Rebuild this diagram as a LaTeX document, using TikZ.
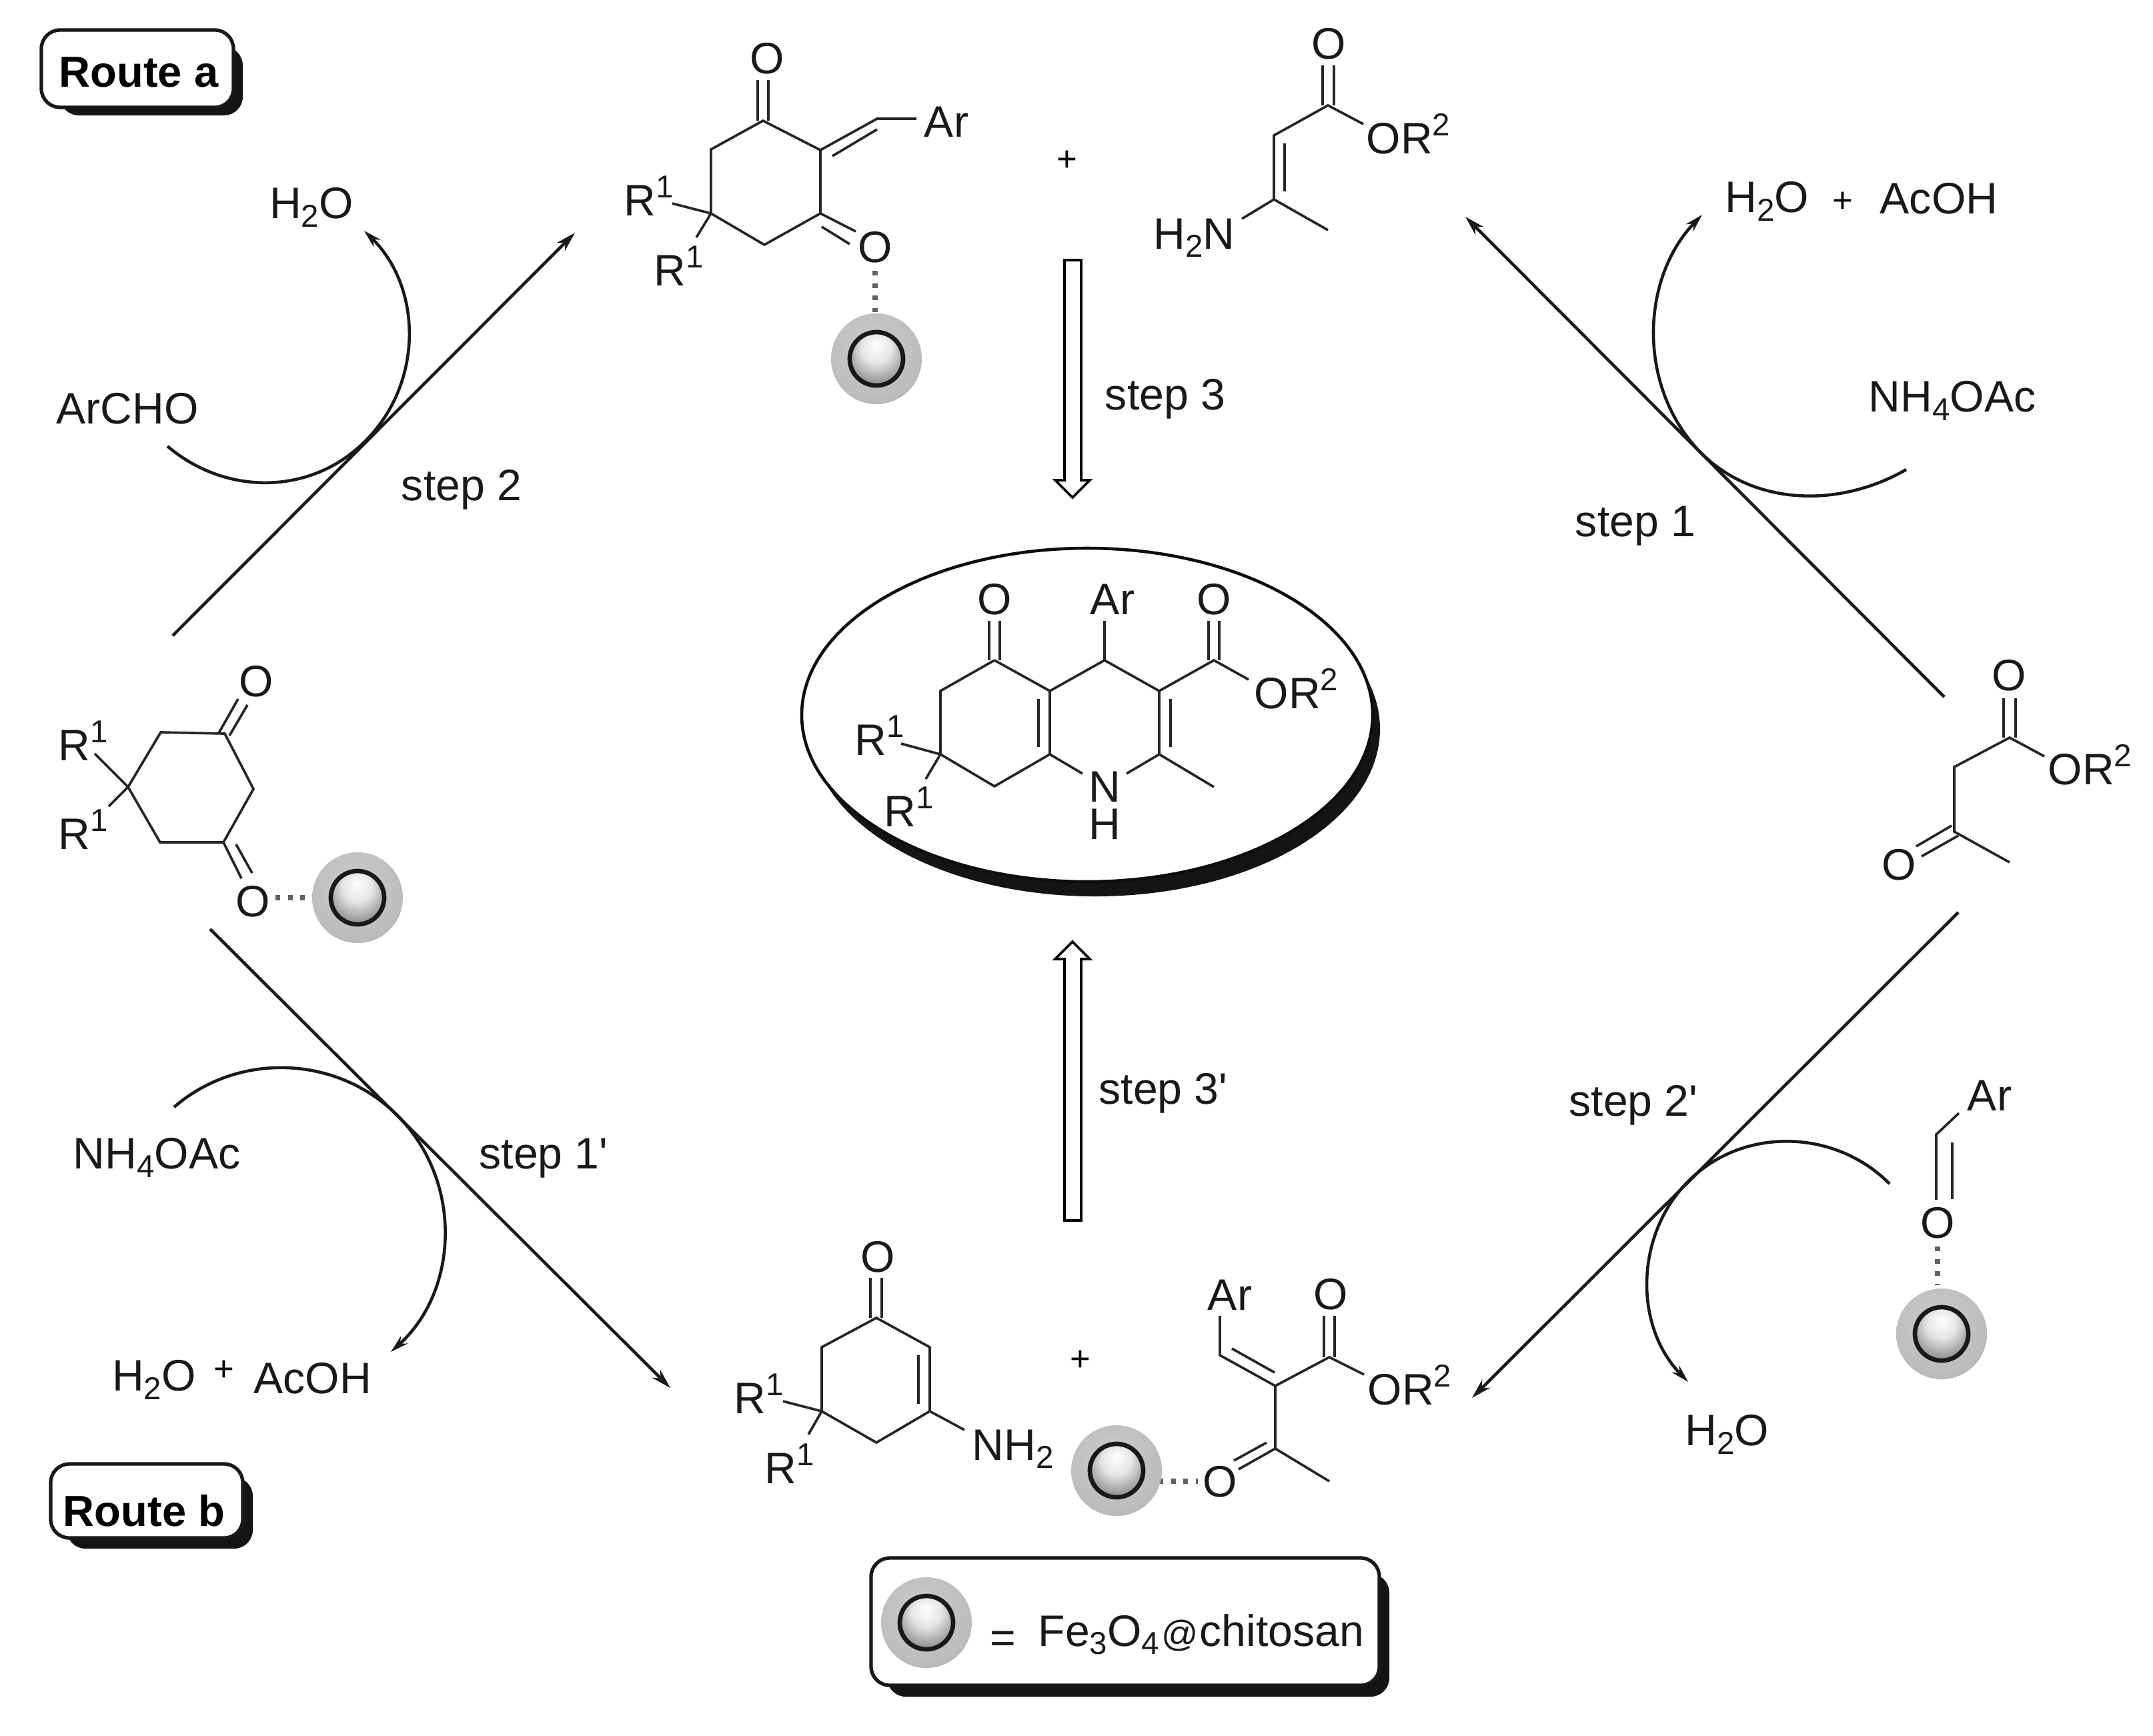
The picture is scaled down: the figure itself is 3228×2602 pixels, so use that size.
\documentclass[tikz,border=0pt]{standalone}
\usepackage{fontspec}
\setmainfont{Liberation Sans}
\usetikzlibrary{arrows.meta}
\pgfdeclareradialshading{pcore}{\pgfpoint{0bp}{14bp}}{color(0bp)=(white);color(14bp)=(black!10);color(30bp)=(black!45);color(45bp)=(black!80);color(50bp)=(black!90)}
\pgfdeclareradialshading{pshell}{\pgfpoint{-3bp}{8bp}}{color(0bp)=(black!20);color(26bp)=(black!26);color(40bp)=(black!34);color(52bp)=(black!40);color(60bp)=(black!38)}
\newcommand{\up}[1]{\raisebox{7.6pt}{\fontsize{13.5}{14}\selectfont #1}}
\newcommand{\dn}[1]{\raisebox{-3.5pt}{\fontsize{13.5}{14}\selectfont #1}}
\newcommand{\prm}{\textquotesingle}
\tikzset{
  lab/.style={inner sep=0pt,font=\fontsize{18.8}{20}\selectfont,text=black!90},
  bl/.style={lab,anchor=base west},
  be/.style={lab,anchor=base east},
  plus/.style={inner sep=0pt,font=\fontsize{15}{16}\selectfont},
  bond/.style={line width=1.05pt,black!85,line join=miter,line cap=butt},
  rxn/.style={line width=1.3pt,black!90,-{Stealth[length=0.3cm,width=0.17cm]}},
  curve/.style={line width=1.3pt,black!90},
  hbond/.style={line width=2.2pt,black!62,dash pattern=on 2pt off 3.3pt},
  hollow/.style={line width=1.05pt,draw=black,fill=white,line join=miter},
  pshellst/.style={circle,inner sep=0pt,minimum size=1.36cm,shading=pshell},
  pcorest/.style={circle,inner sep=0pt,minimum size=0.8cm,shading=pcore,draw=black!90,line width=1.9pt},
  boxw/.style={rounded corners=0.28cm,fill=white,draw=black!90,line width=1.5pt},
  boxs/.style={rounded corners=0.28cm,fill=black!92},
  route/.style={inner sep=0pt,font=\fontsize{18.5}{20}\selectfont\bfseries}
}
\begin{document}
\begin{tikzpicture}[x=0.01cm,y=-0.01cm]
\useasboundingbox (0,0) rectangle (3228,2602);
\fill[white] (0,0) rectangle (3228,2602);

% ---- reaction arrows
\coordinate (s2a) at (259,953); \coordinate (s2b) at (862,349);
\coordinate (s1a) at (2915,1045); \coordinate (s1b) at (2197,325);
\coordinate (s1pa) at (315,1393); \coordinate (s1pb) at (1005,2081);
\coordinate (s2pa) at (2936,1368); \coordinate (s2pb) at (2207,2096);
\draw[rxn] (s2a) -- (s2b);
\draw[rxn] (s1a) -- (s1b);
\draw[rxn] (s1pa) -- (s1pb);
\draw[rxn] (s2pa) -- (s2pb);

% ---- curved arrows
\coordinate (ca1) at (251,669); \coordinate (ca2) at (549,660); \coordinate (ca3) at (546,346);
\draw[curve,-{Stealth[length=0.27cm,width=0.15cm]}] (ca1) .. controls +(88,75) and +(-81,83) .. (ca2) .. controls +(86,-87) and +(87,85) .. (ca3);
\coordinate (cb1) at (2858,704); \coordinate (cb2) at (2540,668); \coordinate (cb3) at (2552,322);
\draw[curve,-{Stealth[length=0.27cm,width=0.15cm]}] (cb1) .. controls +(-104,60) and +(79,91) .. (cb2) .. controls +(-85,-98) and +(-90,93) .. (cb3);
\coordinate (cc1) at (261,1660); \coordinate (cc2) at (610,1688); \coordinate (cc3) at (586,2027);
\draw[curve,-{Stealth[length=0.27cm,width=0.15cm]}] (cc1) .. controls +(103,-89) and +(-87,-104) .. (cc2) .. controls +(84,100) and +(97,-87) .. (cc3);
\coordinate (cd1) at (2833,1775); \coordinate (cd2) at (2541,1762); \coordinate (cd3) at (2531,2072);
\draw[curve,-{Stealth[length=0.27cm,width=0.15cm]}] (cd1) .. controls +(-78,-79) and +(83,-73) .. (cd2) .. controls +(-90,79) and +(-84,-86) .. (cd3);

% ---- hollow arrows
\draw[hollow] (1596,390) -- (1621,390) -- (1621,720) -- (1634,720) -- (1608,746) -- (1582,720) -- (1596,720) -- cycle;
\draw[hollow] (1596,1830) -- (1621,1830) -- (1621,1438) -- (1634,1438) -- (1608,1412) -- (1582,1438) -- (1596,1438) -- cycle;

% ---- central ellipse
\fill[black!92] (1642,1093) ellipse [x radius=427,y radius=251];
\draw[fill=white,line width=1.3pt,draw=black!95] (1630,1072) ellipse [x radius=428,y radius=250];

% ---- route boxes
\fill[boxs] (90,70) rectangle (364,173);
\draw[boxw] (62,45) rectangle (350,161);
\node[route] (routea) at (208,108) {Route a};
\fill[boxs] (100,2215) rectangle (379,2322);
\draw[boxw] (76,2195) rectangle (364,2306);
\node[route] (routeb) at (216,2265) {Route b};

% ---- legend box
\fill[boxs] (1330,2360) rectangle (2083,2544);
\draw[boxw] (1306,2336) rectangle (2068,2527);
\node[pshellst] (pleg) at (1389,2433) {};
\node[pcorest] (plegc) at (1389,2433) {};
\node[lab] (legeq) at (1504,2462) {=};
\node[bl] (legt) at (1556,2468) {Fe\dn{3}O\dn{4}{\fontsize{15.5}{16}\selectfont\kern 1pt@\kern 0.5pt}chitosan};

% ---- molecule A (top left)
\foreach \n/\p in {a1/{1144,181},a2/{1230,225},a3/{1230,320},a4/{1146,367},a5/{1066,320},a6/{1066,224},a7/{1315,178},a8/{1374,178}} \coordinate (\n) at (\p);
\draw[bond] (a1) -- (a2) -- (a3) -- (a4) -- (a5) -- (a6) -- cycle;
\draw[bond] (1136,181) -- (1136,120) (1152,181) -- (1152,120);
\draw[bond] (a2) -- (a7) -- (a8);
\draw[bond] (1248,234) -- (1315,194);
\draw[bond] (a3) -- (1283,347) (1232,340) -- (1274,366);
\draw[bond] (a5) -- (1008,305) (a5) -- (1044,356);
\node[lab] (ao1) at (1150,88) {O};
\node[lab] (aar) at (1419,183) {Ar};
\node[lab] (ao2) at (1312,371) {O};
\node[bl] (ar1) at (935,323) {R\up{1}};
\node[bl] (ar2) at (980,428) {R\up{1}};
\draw[hbond] (1312,406) -- (1312,468);
\node[pshellst] (pa) at (1314,538) {};
\node[pcorest] (pac) at (1314,538) {};

\node[plus] (plus1) at (1600,241) {+};

% ---- molecule B (top right)
\foreach \n/\p in {b1/{1991,158},b2/{1910,203},b3/{1910,299},b4/{1991,345},b5/{2044,186},b6/{1862,328}} \coordinate (\n) at (\p);
\draw[bond] (b5) -- (b1) -- (b2) -- (b3) -- (b4) (b3) -- (b6);
\draw[bond] (1983,158) -- (1983,98) (2000,158) -- (2000,98);
\draw[bond] (1926,215) -- (1926,287);
\node[lab] (bo) at (1992,66) {O};
\node[bl] (bor) at (2048,230) {OR\up{2}};
\node[be] (bn) at (1852,373) {H\dn{2}N};

% ---- central product
\foreach \n/\p in {c1/{1491,990},c2/{1574,1036},c3/{1656,990},c4/{1738,1036},c5/{1820,990},c6/{1738,1131},c7/{1574,1131},c8/{1491,1179},c9/{1410,1131},c10/{1410,1036},c11/{1872,1019},c12/{1623,1160},c13/{1689,1160},c14/{1820,1180}} \coordinate (\n) at (\p);
\draw[bond] (c1) -- (c2) -- (c3) -- (c4) -- (c5) -- (c11);
\draw[bond] (c4) -- (c6) -- (c14) (c6) -- (c13);
\draw[bond] (c2) -- (c7) -- (c12) (c7) -- (c8) -- (c9) -- (c10) -- (c1);
\draw[bond] (1483,990) -- (1483,931) (1499,990) -- (1499,931);
\draw[bond] (c3) -- (1656,931);
\draw[bond] (1812,990) -- (1812,931) (1828,990) -- (1828,931);
\draw[bond] (1557,1048) -- (1557,1120) (1755,1048) -- (1755,1120);
\draw[bond] (c9) -- (1351,1115) (c9) -- (1388,1168);
\node[lab] (co1) at (1491,899) {O};
\node[lab] (car) at (1668,899) {Ar};
\node[lab] (co2) at (1820,899) {O};
\node[bl] (cor) at (1880,1062) {OR\up{2}};
\node[lab] (cn) at (1656,1180) {N};
\node[lab] (ch) at (1656,1236) {H};
\node[bl] (cr1) at (1281,1132) {R\up{1}};
\node[bl] (cr2) at (1325,1239) {R\up{1}};

% ---- molecule D (left)
\foreach \n/\p in {d1/{241,1098},d2/{337,1100},d3/{380,1183},d4/{335,1263},d5/{240,1263},d6/{192,1180}} \coordinate (\n) at (\p);
\draw[bond] (d1) -- (d2) -- (d3) -- (d4) -- (d5) -- (d6) -- cycle;
\draw[bond] (328,1099) -- (357,1048) (344,1103) -- (371,1057);
\draw[bond] (335,1263) -- (362,1317) (354,1266) -- (378,1309);
\draw[bond] (d6) -- (142,1130) (d6) -- (163,1209);
\node[lab] (do1) at (384,1022) {O};
\node[lab] (do2) at (379,1352) {O};
\node[bl] (dr1) at (87,1140) {R\up{1}};
\node[bl] (dr2) at (87,1273) {R\up{1}};
\draw[hbond] (413,1346) -- (469,1346);
\node[pshellst] (pd) at (536,1346) {};
\node[pcorest] (pdc) at (536,1346) {};

% ---- molecule E (right)
\foreach \n/\p in {e1/{3013,1106},e2/{2930,1150},e3/{2930,1247},e4/{3065,1134},e5/{3013,1293}} \coordinate (\n) at (\p);
\draw[bond] (e4) -- (e1) -- (e2) -- (e3) -- (e5);
\draw[bond] (3004,1106) -- (3004,1047) (3022,1106) -- (3022,1047);
\draw[bond] (2926,1238) -- (2873,1269) (2936,1253) -- (2881,1284);
\node[lab] (eo1) at (3012,1013) {O};
\node[lab] (eo2) at (2847,1297) {O};
\node[bl] (eor) at (3070,1176) {OR\up{2}};

% ---- molecule F (bottom left)
\foreach \n/\p in {f1/{1314,1976},f2/{1394,2020},f3/{1394,2116},f4/{1314,2163},f5/{1232,2116},f6/{1232,2020}} \coordinate (\n) at (\p);
\draw[bond] (f1) -- (f2) -- (f3) -- (f4) -- (f5) -- (f6) -- cycle;
\draw[bond] (1305,1976) -- (1305,1916) (1322,1976) -- (1322,1916);
\draw[bond] (1377,2032) -- (1377,2105);
\draw[bond] (f3) -- (1446,2144);
\draw[bond] (f5) -- (1174,2101) (f5) -- (1212,2151);
\node[lab] (fo) at (1316,1885) {O};
\node[bl] (fn) at (1457,2189) {NH\dn{2}};
\node[bl] (fr1) at (1100,2119) {R\up{1}};
\node[bl] (fr2) at (1146,2224) {R\up{1}};
\node[plus] (plus2) at (1620,2040) {+};

% ---- molecule G (bottom right)
\foreach \n/\p in {g1/{1912,2078},g2/{1993,2035},g3/{2045,2061},g4/{1829,2032},g5/{1829,1973},g6/{1912,2172},g7/{1993,2221}} \coordinate (\n) at (\p);
\draw[bond] (g3) -- (g2) -- (g1) -- (g4) -- (g5);
\draw[bond] (g1) -- (g6) -- (g7);
\draw[bond] (1985,2035) -- (1985,1973) (2001,2035) -- (2001,1973);
\draw[bond] (1847,2022) -- (1911,2058);
\draw[bond] (1899,2163) -- (1850,2190) (g6) -- (1857,2203);
\node[lab] (gar) at (1844,1942) {Ar};
\node[lab] (go1) at (1995,1941) {O};
\node[bl] (gor) at (2050,2106) {OR\up{2}};
\node[lab] (go2) at (1829,2222) {O};
\draw[hbond] (1737,2221) -- (1796,2221);
\node[pshellst] (pg) at (1674,2205) {};
\node[pcorest] (pgc) at (1674,2205) {};

% ---- molecule H (far right)
\foreach \n/\p in {h1/{2903,1701},h2/{2937,1669},h3/{2903,1799}} \coordinate (\n) at (\p);
\draw[bond] (h2) -- (h1) -- (h3);
\draw[bond] (2927,1713) -- (2927,1798);
\node[lab] (hoo) at (2905,1834) {O};
\node[lab] (har) at (2983,1643) {Ar};
\draw[hbond] (2905,1869) -- (2905,1927);
\node[pshellst] (ph) at (2911,2000) {};
\node[pcorest] (phc) at (2911,2000) {};

% ---- reagents and step labels
\node[lab] (t1) at (467,311) {H\dn{2}O};
\node[lab] (t2) at (191,613) {ArCHO};
\node[lab] (t3) at (2927,601) {NH\dn{4}OAc};
\node[lab] (t4) at (2649,302) {H\dn{2}O};
\node[plus] (t5) at (2763,303) {+};
\node[lab] (t6) at (2907,298) {AcOH};
\node[lab] (t7) at (235,1736) {NH\dn{4}OAc};
\node[lab] (t8) at (231,2069) {H\dn{2}O};
\node[plus] (t9) at (336,2055) {+};
\node[lab] (t10) at (469,2067) {AcOH};
\node[lab] (t11) at (2589,2151) {H\dn{2}O};
\node[lab] (st2) at (692,734) {step 2};
\node[lab] (st1) at (2452,789) {step 1};
\node[lab] (st3) at (1747,598) {step 3};
\node[lab] (st1p) at (815,1737) {step 1\prm};
\node[lab] (st3p) at (1744,1639) {step 3\prm};
\node[lab] (st2p) at (2449,1657) {step 2\prm};
\end{tikzpicture}
\end{document}
